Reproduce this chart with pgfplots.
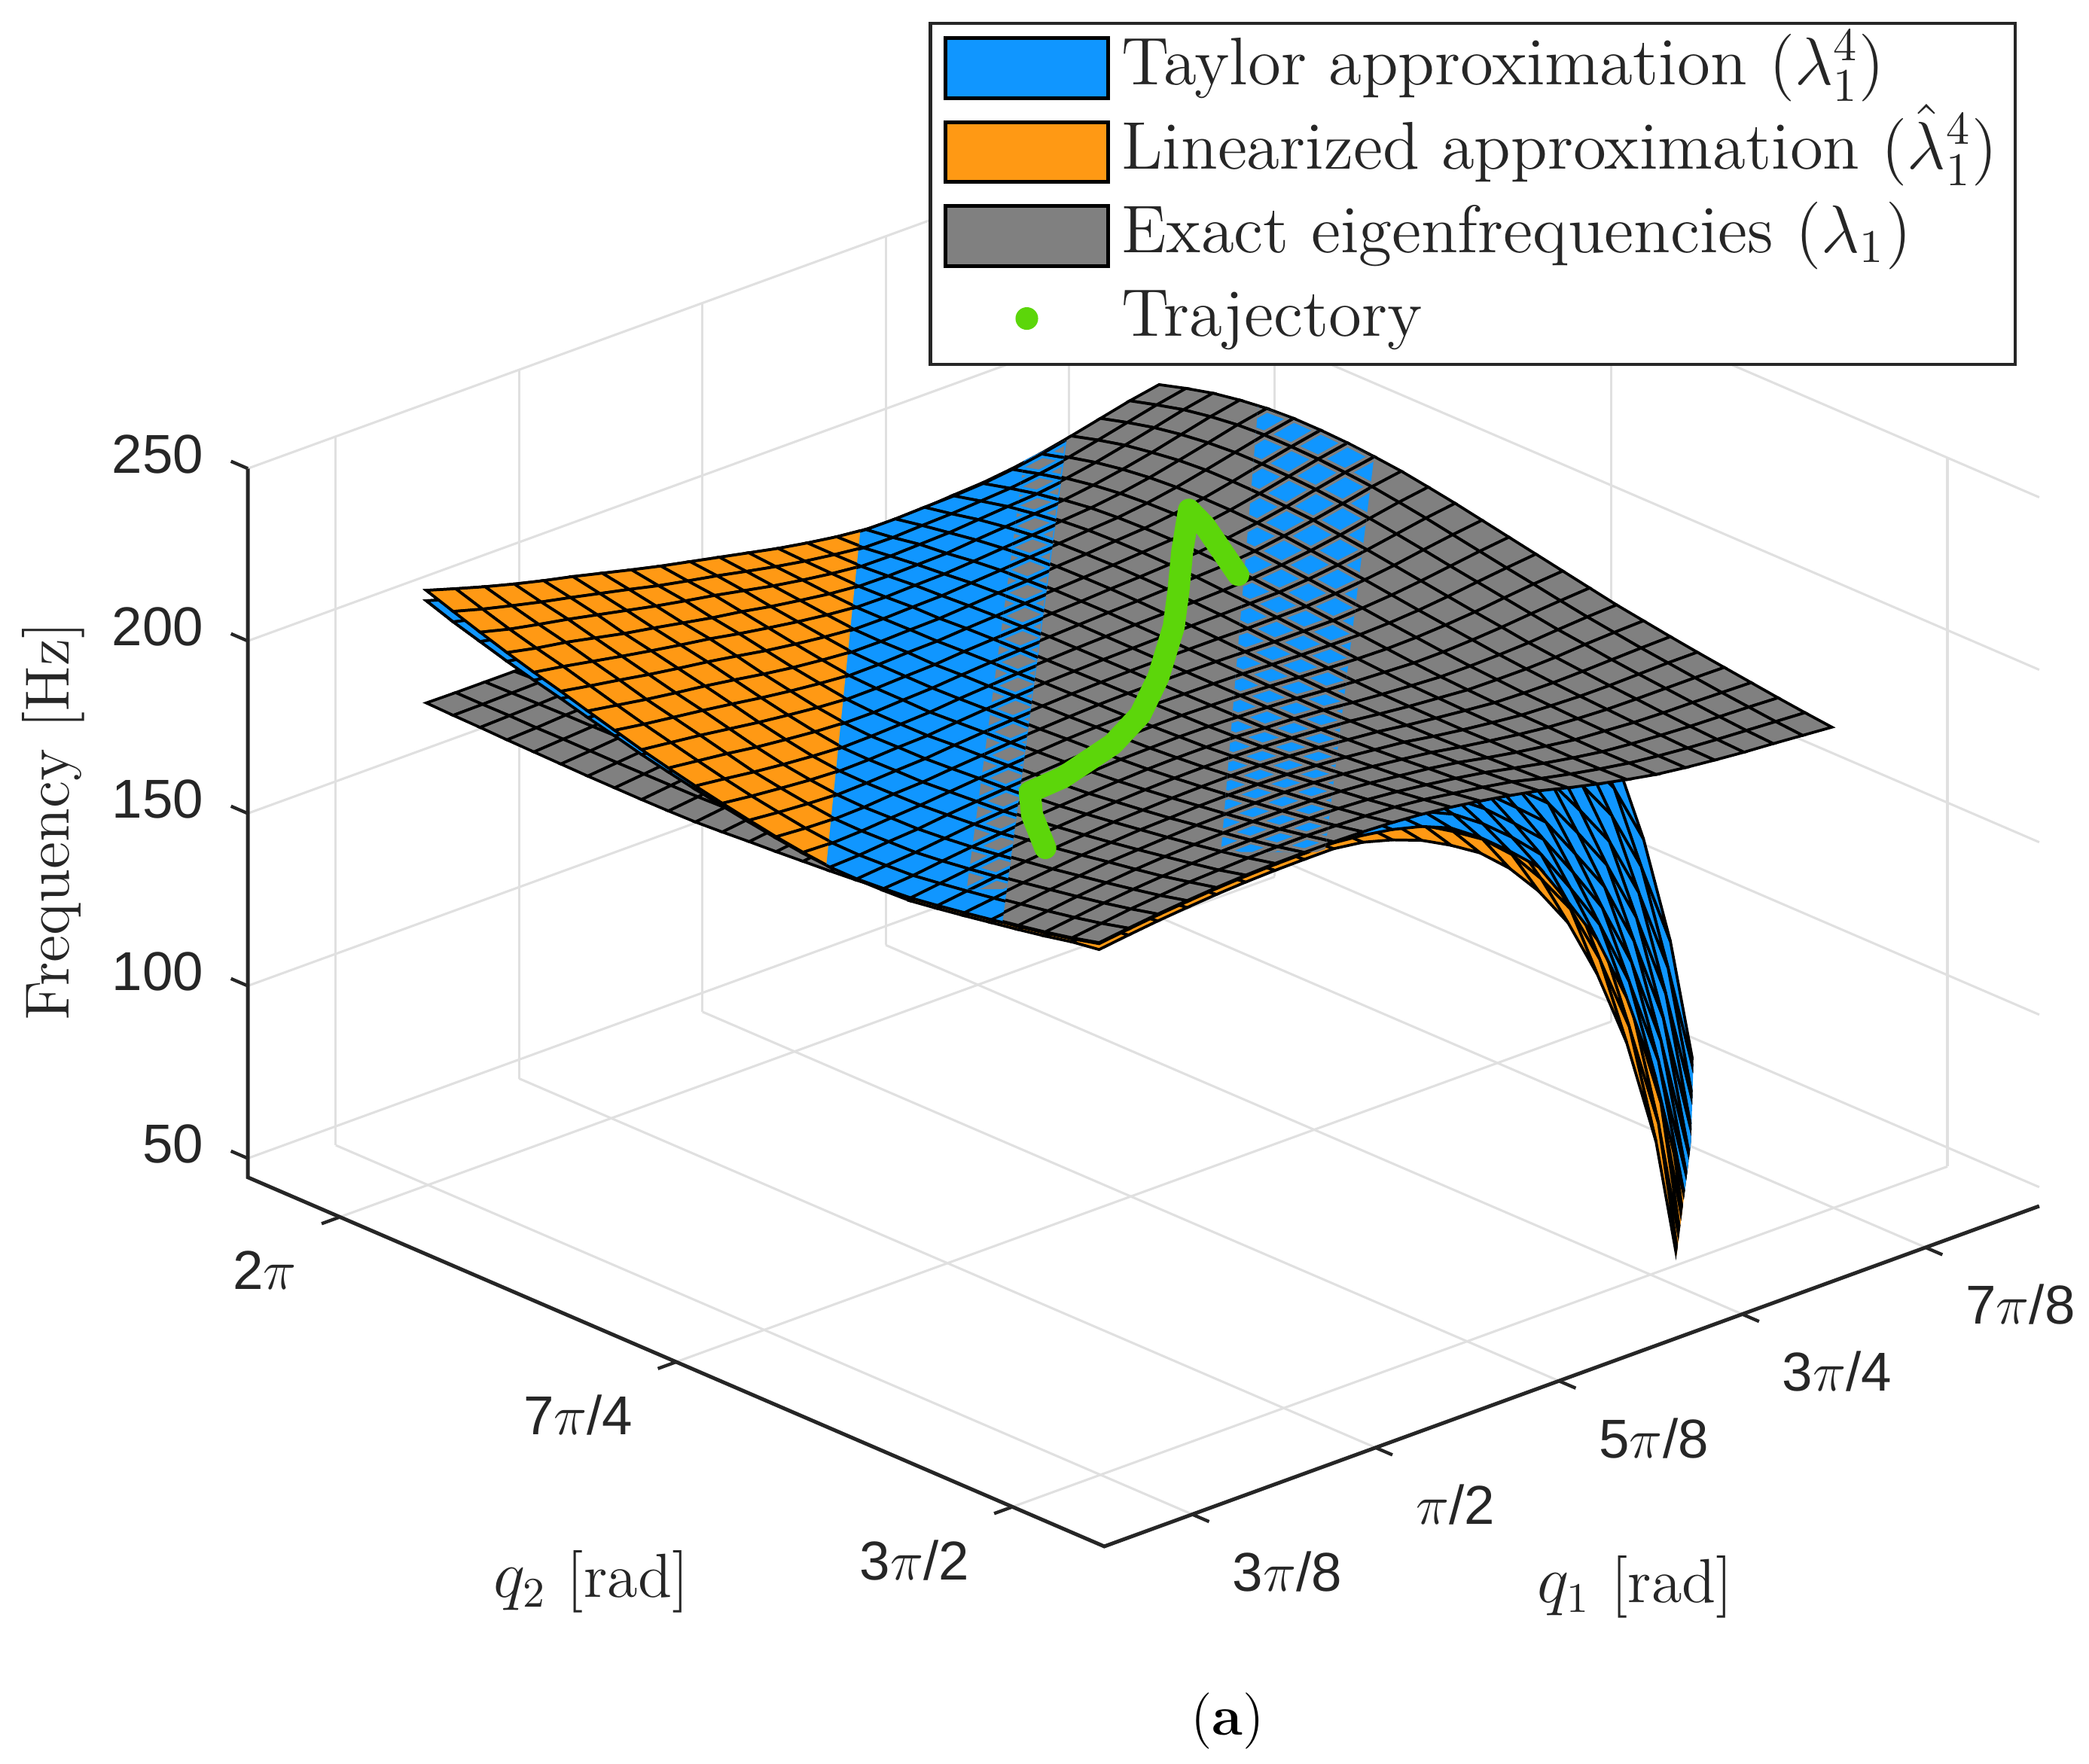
\documentclass[border=0pt]{standalone}
\usepackage{fontspec}
\usepackage{pgfplots}
\usepackage{pgfplotstable}
\pgfplotsset{compat=1.18}
\newfontfamily\tickfont{Liberation Sans}
\definecolor{taylorblue}{RGB}{16,150,255}
\definecolor{linorange}{RGB}{255,153,20}
\definecolor{exactgrey}{RGB}{128,128,128}
\definecolor{trajgreen}{RGB}{92,214,10}
\definecolor{axdark}{RGB}{38,38,38}
\newcommand{\tickfs}{\fontsize{11.7pt}{13pt}\selectfont\tickfont\color{axdark}}
\newcommand{\labfs}{\fontsize{13.3pt}{16pt}\selectfont\color{axdark}}
\newcommand{\legfs}{\fontsize{14.4pt}{17pt}\selectfont\color{axdark}}
% i, j: grid index along q1, q2; g exact, t Taylor, o linearized
\pgfplotstableread{
i j g t o
0 0 197.0 196.7 195.0
1 0 198.2 197.9 196.2
2 0 199.3 199.0 197.3
3 0 200.2 199.9 198.2
4 0 201.0 200.7 199.0
5 0 201.6 201.3 199.6
6 0 202.0 201.7 200.0
7 0 202.2 201.9 200.2
8 0 202.3 202.0 200.3
9 0 202.2 201.2 199.2
10 0 201.9 199.9 196.9
11 0 201.3 197.8 193.8
12 0 200.4 194.4 189.4
13 0 199.2 188.7 184.2
14 0 197.8 181.8 176.8
15 0 196.2 174.2 167.2
16 0 194.1 161.1 155.1
17 0 192.2 147.2 137.2
18 0 190.5 127.5 114.5
19 0 189.0 101.0 83.0
20 0 188.0 63.0 33.0
21 0 187.2 17.2 -27.8
22 0 186.5 -38.5 -103.5
23 0 186.0 -104.0 -194.0
24 0 185.4 -184.6 -294.6
25 0 184.8 -275.2 -415.2
0 1 195.0 194.7 193.8
1 1 196.2 195.9 195.0
2 1 197.4 197.1 196.2
3 1 198.3 198.0 197.1
4 1 199.2 198.9 198.0
5 1 199.7 199.4 198.5
6 1 200.2 199.9 199.0
7 1 200.5 200.2 199.3
8 1 200.7 200.4 199.5
9 1 200.6 200.3 199.0
10 1 200.4 199.4 197.4
11 1 200.0 198.0 195.0
12 1 199.2 195.7 191.7
13 1 198.0 192.0 187.0
14 1 196.8 186.3 181.8
15 1 195.4 179.4 174.4
16 1 193.4 171.4 164.4
17 1 191.7 158.7 152.7
18 1 190.2 145.2 135.2
19 1 188.9 125.9 112.9
20 1 188.0 100.0 82.0
21 1 187.3 62.3 32.3
22 1 186.8 16.8 -28.2
23 1 186.4 -38.6 -103.6
24 1 186.0 -104.0 -194.0
25 1 185.6 -184.4 -294.4
0 2 193.3 193.0 192.1
1 2 194.5 194.2 193.3
2 2 195.7 195.4 194.5
3 2 196.7 196.4 195.5
4 2 197.5 197.2 196.3
5 2 198.2 197.9 197.0
6 2 198.7 198.4 197.5
7 2 199.0 198.7 197.8
8 2 199.2 198.9 198.0
9 2 199.3 199.0 198.1
10 2 199.2 198.9 197.6
11 2 198.8 197.8 195.8
12 2 198.1 196.1 193.1
13 2 197.1 193.6 189.6
14 2 196.0 190.0 185.0
15 2 194.7 184.2 179.7
16 2 193.0 177.0 172.0
17 2 191.4 169.4 162.4
18 2 190.0 157.0 151.0
19 2 188.8 143.8 133.8
20 2 188.1 125.1 112.1
21 2 187.6 99.6 81.6
22 2 187.2 62.2 32.2
23 2 187.0 17.0 -28.0
24 2 186.8 -38.2 -103.2
25 2 186.5 -103.5 -193.5
0 3 191.8 191.5 190.6
1 3 193.0 192.7 191.8
2 3 194.2 193.9 193.0
3 3 195.2 194.9 194.0
4 3 196.1 195.8 194.9
5 3 196.8 196.5 195.6
6 3 197.3 197.0 196.1
7 3 197.7 197.4 196.5
8 3 198.0 197.7 196.8
9 3 198.1 197.8 196.9
10 3 198.1 197.8 196.9
11 3 197.8 197.5 196.2
12 3 197.2 196.2 194.2
13 3 196.3 194.3 191.3
14 3 195.4 191.9 187.9
15 3 194.2 188.2 183.2
16 3 192.6 182.1 177.6
17 3 191.2 175.2 170.2
18 3 190.0 168.0 161.0
19 3 188.9 155.9 149.9
20 3 188.4 143.4 133.4
21 3 187.9 124.9 111.9
22 3 187.7 99.7 81.7
23 3 187.7 62.7 32.7
24 3 187.6 17.6 -27.4
25 3 187.5 -37.5 -102.5
0 4 190.4 190.1 189.2
1 4 191.6 191.3 190.4
2 4 192.8 192.5 191.6
3 4 193.8 193.5 192.6
4 4 194.8 194.5 193.6
5 4 195.4 195.1 194.2
6 4 196.0 195.7 194.8
7 4 196.5 196.2 195.3
8 4 196.8 196.5 195.6
9 4 197.0 196.7 195.8
10 4 197.1 196.8 195.9
11 4 196.9 196.6 195.7
12 4 196.4 196.1 194.8
13 4 195.6 194.6 192.6
14 4 194.7 192.7 189.7
15 4 193.7 190.2 186.2
16 4 192.3 186.3 181.3
17 4 191.1 180.6 176.1
18 4 190.0 174.0 169.0
19 4 189.1 167.1 160.1
20 4 188.6 155.6 149.6
21 4 188.3 143.3 133.3
22 4 188.3 125.3 112.3
23 4 188.4 100.4 82.4
24 4 188.5 63.5 33.5
25 4 188.5 18.5 -26.5
0 5 189.0 188.7 187.8
1 5 190.2 189.9 189.0
2 5 191.4 191.1 190.2
3 5 192.4 192.1 191.2
4 5 193.4 193.1 192.2
5 5 194.1 193.8 192.9
6 5 194.8 194.5 193.6
7 5 195.2 194.9 194.0
8 5 195.7 195.4 194.5
9 5 195.9 195.6 194.7
10 5 196.0 195.7 194.8
11 5 195.9 195.6 194.7
12 5 195.5 195.2 194.3
13 5 194.9 194.6 193.3
14 5 194.1 193.1 191.1
15 5 193.3 191.3 188.3
16 5 192.0 188.5 184.5
17 5 190.9 184.9 179.9
18 5 190.0 179.5 175.0
19 5 189.2 173.2 168.2
20 5 188.9 166.9 159.9
21 5 188.7 155.7 149.7
22 5 188.8 143.8 133.8
23 5 189.1 126.1 113.1
24 5 189.4 101.4 83.4
25 5 189.5 64.5 34.5
0 6 187.7 187.4 186.5
1 6 188.9 188.6 187.7
2 6 190.1 189.8 188.9
3 6 191.2 190.9 190.0
4 6 192.1 191.8 190.9
5 6 192.9 192.6 191.7
6 6 193.6 193.3 192.4
7 6 194.1 193.8 192.9
8 6 194.6 194.3 193.4
9 6 194.9 194.6 193.7
10 6 195.1 194.8 193.9
11 6 195.1 194.8 193.9
12 6 194.8 194.5 193.6
13 6 194.3 194.0 193.1
14 6 193.6 193.3 192.0
15 6 192.9 191.9 189.9
16 6 191.8 189.8 186.8
17 6 190.9 187.4 183.4
18 6 190.1 184.1 179.1
19 6 189.4 178.9 174.4
20 6 189.2 173.2 168.2
21 6 189.2 167.2 160.2
22 6 189.5 156.5 150.5
23 6 189.9 144.9 134.9
24 6 190.3 127.3 114.3
25 6 190.6 102.6 84.6
0 7 186.5 186.2 185.3
1 7 187.7 187.4 186.5
2 7 188.9 188.6 187.7
3 7 190.0 189.7 188.8
4 7 191.0 190.7 189.8
5 7 191.8 191.5 190.6
6 7 192.5 192.2 191.3
7 7 193.1 192.8 191.9
8 7 193.6 193.3 192.4
9 7 194.0 193.7 192.8
10 7 194.2 193.9 193.0
11 7 194.3 194.0 193.1
12 7 194.1 193.8 192.9
13 7 193.7 193.4 192.5
14 7 193.2 192.9 192.0
15 7 192.6 192.3 191.0
16 7 191.7 190.7 188.7
17 7 190.9 188.9 185.9
18 7 190.3 186.8 182.8
19 7 189.7 183.7 178.7
20 7 189.7 179.2 174.7
21 7 189.8 173.8 168.8
22 7 190.2 168.2 161.2
23 7 190.9 157.9 151.9
24 7 191.4 146.4 136.4
25 7 191.8 128.8 115.8
0 8 185.4 185.5 184.9
1 8 186.6 186.3 185.4
2 8 187.8 187.5 186.6
3 8 188.9 188.6 187.7
4 8 189.9 189.6 188.7
5 8 190.8 190.5 189.6
6 8 191.5 191.2 190.3
7 8 192.1 191.8 190.9
8 8 192.7 192.4 191.5
9 8 193.2 192.9 192.0
10 8 193.5 193.2 192.3
11 8 193.6 193.3 192.4
12 8 193.6 193.3 192.4
13 8 193.2 192.9 192.0
14 8 192.9 192.6 191.7
15 8 192.4 192.1 191.2
16 8 191.6 191.3 190.0
17 8 191.0 190.0 188.0
18 8 190.5 188.5 185.5
19 8 190.1 186.6 182.6
20 8 190.2 184.2 179.2
21 8 190.5 180.0 175.5
22 8 191.0 175.0 170.0
23 8 191.8 169.8 162.8
24 8 192.5 159.5 153.5
25 8 193.0 148.0 138.0
0 9 184.5 184.9 184.7
1 9 185.7 185.8 185.2
2 9 186.9 186.6 185.7
3 9 188.0 187.7 186.8
4 9 189.1 188.8 187.9
5 9 189.9 189.6 188.7
6 9 190.7 190.4 189.5
7 9 191.4 191.1 190.2
8 9 192.0 191.7 190.8
9 9 192.6 192.3 191.4
10 9 192.9 192.6 191.7
11 9 193.2 192.9 192.0
12 9 193.2 192.9 192.0
13 9 193.0 192.7 191.8
14 9 192.8 192.5 191.6
15 9 192.4 192.1 191.2
16 9 191.8 191.5 190.6
17 9 191.3 191.0 189.7
18 9 191.0 190.0 188.0
19 9 190.7 188.7 185.7
20 9 190.9 187.4 183.4
21 9 191.4 185.4 180.4
22 9 192.1 181.6 177.1
23 9 193.0 177.0 172.0
24 9 193.8 171.8 164.8
25 9 194.5 161.5 155.5
0 10 183.8 184.9 185.0
1 10 185.0 185.4 185.2
2 10 186.2 186.3 185.7
3 10 187.3 187.0 186.1
4 10 188.4 188.1 187.2
5 10 189.3 189.0 188.1
6 10 190.1 189.8 188.9
7 10 190.8 190.5 189.6
8 10 191.5 191.2 190.3
9 10 192.1 191.8 190.9
10 10 192.5 192.2 191.3
11 10 192.8 192.5 191.6
12 10 193.0 192.7 191.8
13 10 192.9 192.6 191.7
14 10 192.8 192.5 191.6
15 10 192.5 192.2 191.3
16 10 192.1 191.8 190.9
17 10 191.8 191.5 190.6
18 10 191.5 191.2 189.9
19 10 191.4 190.4 188.4
20 10 191.7 189.7 186.7
21 10 192.3 188.8 184.8
22 10 193.1 187.1 182.1
23 10 194.2 183.7 179.2
24 10 195.2 179.2 174.2
25 10 196.0 174.0 167.0
0 11 183.2 185.5 185.8
1 11 184.4 185.5 185.6
2 11 185.6 186.0 185.8
3 11 186.7 186.8 186.2
4 11 187.8 187.5 186.6
5 11 188.7 188.4 187.5
6 11 189.6 189.3 188.4
7 11 190.3 190.0 189.1
8 11 191.0 190.7 189.8
9 11 191.7 191.4 190.5
10 11 192.2 191.9 191.0
11 11 192.5 192.2 191.3
12 11 192.8 192.5 191.6
13 11 192.8 192.5 191.6
14 11 192.8 192.5 191.6
15 11 192.7 192.4 191.5
16 11 192.4 192.1 191.2
17 11 192.2 191.9 191.0
18 11 192.1 191.8 190.9
19 11 192.1 191.8 190.5
20 11 192.5 191.5 189.5
21 11 193.2 191.2 188.2
22 11 194.2 190.7 186.7
23 11 195.4 189.4 184.4
24 11 196.5 186.0 181.5
25 11 197.5 181.5 176.5
0 12 182.6 186.5 186.9
1 12 183.8 186.1 186.4
2 12 185.0 186.1 186.2
3 12 186.1 186.5 186.3
4 12 187.2 187.3 186.7
5 12 188.1 187.8 186.9
6 12 189.0 188.7 187.8
7 12 189.8 189.5 188.6
8 12 190.6 190.3 189.4
9 12 191.2 190.9 190.0
10 12 191.8 191.5 190.6
11 12 192.3 192.0 191.1
12 12 192.6 192.3 191.4
13 12 192.7 192.4 191.5
14 12 192.8 192.5 191.6
15 12 192.8 192.5 191.6
16 12 192.7 192.4 191.5
17 12 192.6 192.3 191.4
18 12 192.7 192.4 191.5
19 12 192.8 192.5 191.6
20 12 193.4 193.1 191.8
21 12 194.2 193.2 191.2
22 12 195.3 193.3 190.3
23 12 196.6 193.1 189.1
24 12 197.9 191.9 186.9
25 12 199.0 188.5 184.0
0 13 182.1 187.7 188.3
1 13 183.3 187.2 187.6
2 13 184.5 186.8 187.1
3 13 185.6 186.7 186.8
4 13 186.7 187.1 186.9
5 13 187.6 187.7 187.1
6 13 188.5 188.2 187.3
7 13 189.4 189.1 188.2
8 13 190.2 189.9 189.0
9 13 190.9 190.6 189.7
10 13 191.5 191.2 190.3
11 13 192.0 191.7 190.8
12 13 192.4 192.1 191.2
13 13 192.7 192.4 191.5
14 13 192.9 192.6 191.7
15 13 193.0 192.7 191.8
16 13 193.1 192.8 191.9
17 13 193.1 192.8 191.9
18 13 193.3 193.0 192.1
19 13 193.5 193.2 192.3
20 13 194.2 193.9 193.0
21 13 195.2 194.9 193.6
22 13 196.4 195.4 193.4
23 13 197.9 195.9 192.9
24 13 199.3 195.8 191.8
25 13 200.5 194.5 189.5
0 14 181.5 189.0 189.8
1 14 182.7 188.3 188.9
2 14 183.9 187.8 188.2
3 14 185.0 187.3 187.6
4 14 186.1 187.2 187.3
5 14 187.1 187.5 187.3
6 14 188.0 188.1 187.5
7 14 188.8 188.5 187.6
8 14 189.7 189.4 188.5
9 14 190.5 190.2 189.3
10 14 191.2 190.9 190.0
11 14 191.8 191.5 190.6
12 14 192.2 191.9 191.0
13 14 192.6 192.3 191.4
14 14 192.9 192.6 191.7
15 14 193.2 192.9 192.0
16 14 193.4 193.1 192.2
17 14 193.6 193.3 192.4
18 14 193.9 193.6 192.7
19 14 194.2 193.9 193.0
20 14 195.0 194.7 193.8
21 14 196.1 195.8 194.9
22 14 197.5 197.2 195.9
23 14 199.1 198.1 196.1
24 14 200.7 198.7 195.7
25 14 202.0 198.5 194.5
0 15 181.0 190.4 191.4
1 15 182.2 189.7 190.5
2 15 183.3 188.9 189.5
3 15 184.4 188.3 188.7
4 15 185.5 187.8 188.1
5 15 186.5 187.6 187.7
6 15 187.5 187.9 187.7
7 15 188.3 188.4 187.8
8 15 189.2 188.9 188.0
9 15 190.1 189.8 188.9
10 15 190.8 190.5 189.6
11 15 191.5 191.2 190.3
12 15 192.0 191.7 190.8
13 15 192.5 192.2 191.3
14 15 192.9 192.6 191.7
15 15 193.3 193.0 192.1
16 15 193.6 193.3 192.4
17 15 193.9 193.6 192.7
18 15 194.3 194.0 193.1
19 15 194.8 194.5 193.6
20 15 195.7 195.4 194.5
21 15 196.9 196.6 195.7
22 15 198.4 198.1 197.2
23 15 200.2 199.9 198.6
24 15 201.9 200.9 198.9
25 15 203.3 201.3 198.3
0 16 180.8 192.0 193.2
1 16 181.9 191.3 192.3
2 16 183.1 190.6 191.4
3 16 184.1 189.7 190.3
4 16 185.2 189.1 189.5
5 16 186.2 188.5 188.8
6 16 187.2 188.3 188.4
7 16 188.0 188.4 188.2
8 16 188.9 189.0 188.4
9 16 189.8 189.5 188.6
10 16 190.6 190.3 189.4
11 16 191.3 191.0 190.1
12 16 191.9 191.6 190.7
13 16 192.4 192.1 191.2
14 16 192.9 192.6 191.7
15 16 193.4 193.1 192.2
16 16 193.8 193.5 192.6
17 16 194.3 194.0 193.1
18 16 194.8 194.5 193.6
19 16 195.3 195.0 194.1
20 16 196.3 196.0 195.1
21 16 197.7 197.4 196.5
22 16 199.3 199.0 198.1
23 16 201.1 200.8 199.9
24 16 203.0 202.7 201.4
25 16 204.5 203.5 201.5
0 17 180.7 193.7 195.1
1 17 181.8 193.0 194.2
2 17 182.9 192.3 193.3
3 17 183.9 191.4 192.2
4 17 184.9 190.5 191.1
5 17 185.9 189.8 190.2
6 17 186.8 189.1 189.4
7 17 187.7 188.8 188.9
8 17 188.6 189.0 188.8
9 17 189.4 189.5 188.9
10 17 190.2 189.9 189.0
11 17 191.0 190.7 189.8
12 17 191.6 191.3 190.4
13 17 192.2 191.9 191.0
14 17 192.8 192.5 191.6
15 17 193.3 193.0 192.1
16 17 193.9 193.6 192.7
17 17 194.4 194.1 193.2
18 17 195.0 194.7 193.8
19 17 195.6 195.3 194.4
20 17 196.7 196.4 195.5
21 17 198.1 197.8 196.9
22 17 199.8 199.5 198.6
23 17 201.8 201.5 200.6
24 17 203.7 203.4 202.5
25 17 205.3 205.0 203.7
0 18 180.7 195.7 197.3
1 18 181.7 194.7 196.1
2 18 182.7 193.9 195.1
3 18 183.7 193.1 194.1
4 18 184.7 192.2 193.0
5 18 185.6 191.2 191.8
6 18 186.5 190.4 190.8
7 18 187.4 189.7 190.0
8 18 188.2 189.3 189.4
9 18 189.1 189.5 189.3
10 18 189.9 190.0 189.4
11 18 190.6 190.3 189.4
12 18 191.3 191.0 190.1
13 18 191.9 191.6 190.7
14 18 192.6 192.3 191.4
15 18 193.2 192.9 192.0
16 18 193.8 193.5 192.6
17 18 194.4 194.1 193.2
18 18 195.1 194.8 193.9
19 18 195.8 195.5 194.6
20 18 196.9 196.6 195.7
21 18 198.4 198.1 197.2
22 18 200.2 199.9 199.0
23 18 202.2 201.9 201.0
24 18 204.2 203.9 203.0
25 18 205.9 205.6 204.7
0 19 180.7 197.6 199.5
1 19 181.6 196.6 198.2
2 19 182.5 195.5 196.9
3 19 183.4 194.6 195.8
4 19 184.4 193.8 194.8
5 19 185.3 192.8 193.6
6 19 186.1 191.7 192.3
7 19 186.9 190.8 191.2
8 19 187.8 190.1 190.4
9 19 188.6 189.7 189.8
10 19 189.4 189.8 189.6
11 19 190.1 190.2 189.6
12 19 190.8 190.5 189.6
13 19 191.5 191.2 190.3
14 19 192.2 191.9 191.0
15 19 192.8 192.5 191.6
16 19 193.6 193.3 192.4
17 19 194.2 193.9 193.0
18 19 195.0 194.7 193.8
19 19 195.7 195.4 194.5
20 19 196.9 196.6 195.7
21 19 198.4 198.1 197.2
22 19 200.3 200.0 199.1
23 19 202.4 202.1 201.2
24 19 204.4 204.1 203.2
25 19 206.2 205.9 205.0
0 20 180.8 199.7 201.8
1 20 181.6 198.5 200.4
2 20 182.5 197.5 199.1
3 20 183.3 196.3 197.7
4 20 184.1 195.3 196.5
5 20 185.0 194.4 195.4
6 20 185.8 193.3 194.1
7 20 186.5 192.1 192.7
8 20 187.3 191.2 191.6
9 20 188.1 190.4 190.7
10 20 188.8 189.9 190.0
11 20 189.6 190.0 189.8
12 20 190.3 190.4 189.8
13 20 191.0 190.7 189.8
14 20 191.7 191.4 190.5
15 20 192.4 192.1 191.2
16 20 193.2 192.9 192.0
17 20 193.9 193.6 192.7
18 20 194.7 194.4 193.5
19 20 195.4 195.1 194.2
20 20 196.6 196.3 195.4
21 20 198.2 197.9 197.0
22 20 200.2 199.9 199.0
23 20 202.3 202.0 201.1
24 20 204.4 204.1 203.2
25 20 206.2 205.9 205.0
0 21 180.9 201.6 203.9
1 21 181.6 200.5 202.6
2 21 182.3 199.2 201.1
3 21 183.0 198.0 199.6
4 21 183.8 196.8 198.2
5 21 184.5 195.7 196.9
6 21 185.3 194.7 195.7
7 21 185.9 193.4 194.2
8 21 186.7 192.3 192.9
9 21 187.4 191.3 191.7
10 21 188.1 190.4 190.7
11 21 188.8 189.9 190.0
12 21 189.5 189.9 189.7
13 21 190.2 190.3 189.7
14 21 190.9 190.6 189.7
15 21 191.6 191.3 190.4
16 21 192.4 192.1 191.2
17 21 193.2 192.9 192.0
18 21 194.0 193.7 192.8
19 21 194.8 194.5 193.6
20 21 196.0 195.7 194.8
21 21 197.6 197.3 196.4
22 21 199.6 199.3 198.4
23 21 201.7 201.4 200.5
24 21 203.9 203.6 202.7
25 21 205.7 205.4 204.5
0 22 181.0 203.7 206.2
1 22 181.5 202.2 204.5
2 22 182.2 201.1 203.2
3 22 182.7 199.6 201.5
4 22 183.4 198.4 199.8
5 22 184.0 197.0 198.4
6 22 184.7 196.0 196.9
7 22 185.2 194.6 195.4
8 22 185.9 193.4 194.2
9 22 186.5 192.1 192.7
10 22 187.2 191.1 191.5
11 22 187.8 190.1 190.4
12 22 188.5 189.6 189.7
13 22 189.2 189.6 189.4
14 22 189.8 189.9 189.3
15 22 190.5 190.2 189.3
16 22 191.4 191.1 190.2
17 22 192.2 191.9 191.0
18 22 193.0 192.7 191.8
19 22 193.7 193.4 192.5
20 22 195.0 194.7 193.8
21 22 196.6 196.3 195.4
22 22 198.5 198.2 197.3
23 22 200.7 200.4 199.5
24 22 202.9 202.6 201.7
25 22 204.7 204.4 203.5
0 23 181.2 206.0 208.7
1 23 181.6 204.3 206.6
2 23 182.0 202.7 205.0
3 23 182.5 201.4 203.5
4 23 183.0 199.9 201.8
5 23 183.5 198.5 200.1
6 23 184.0 197.0 198.4
7 23 184.5 195.7 196.9
8 23 185.1 194.5 195.5
9 23 185.6 193.1 193.9
10 23 186.1 191.7 192.3
11 23 186.7 190.6 191.0
12 23 187.3 189.6 189.9
13 23 187.9 189.0 189.1
14 23 188.6 189.0 188.8
15 23 189.3 189.4 188.8
16 23 190.1 189.8 188.9
17 23 190.9 190.6 189.7
18 23 191.7 191.4 190.5
19 23 192.4 192.1 191.2
20 23 193.6 193.3 192.4
21 23 195.2 194.9 194.0
22 23 197.2 196.9 196.0
23 23 199.3 199.0 198.1
24 23 201.5 201.2 200.3
25 23 203.3 203.0 202.1
0 24 181.3 208.3 211.3
1 24 181.5 206.3 209.0
2 24 181.8 204.5 207.0
3 24 182.1 202.8 205.1
4 24 182.4 201.3 203.4
5 24 182.8 199.7 201.6
6 24 183.2 198.2 199.8
7 24 183.5 196.5 197.9
8 24 183.9 195.1 196.3
9 24 184.4 193.8 194.8
10 24 184.8 192.3 193.1
11 24 185.3 190.9 191.5
12 24 185.8 189.7 190.1
13 24 186.4 188.7 189.0
14 24 186.9 188.0 188.1
15 24 187.6 188.0 187.8
16 24 188.4 188.5 187.9
17 24 189.2 188.9 188.0
18 24 189.9 189.6 188.7
19 24 190.6 190.3 189.4
20 24 191.8 191.5 190.6
21 24 193.3 193.0 192.1
22 24 195.3 195.0 194.1
23 24 197.4 197.1 196.2
24 24 199.5 199.2 198.3
25 24 201.3 201.0 200.1
0 25 181.5 211.0 214.0
1 25 181.5 208.5 211.5
2 25 181.6 206.4 209.1
3 25 181.7 204.4 206.9
4 25 181.9 202.6 204.9
5 25 182.1 201.0 203.1
6 25 182.3 199.2 201.1
7 25 182.5 197.5 199.1
8 25 182.8 195.8 197.2
9 25 183.1 194.3 195.5
10 25 183.4 192.8 193.8
11 25 183.8 191.3 192.1
12 25 184.2 189.8 190.4
13 25 184.7 188.6 189.0
14 25 185.2 187.5 187.8
15 25 185.8 186.9 187.0
16 25 186.6 187.0 186.8
17 25 187.3 187.4 186.8
18 25 188.0 187.7 186.8
19 25 188.6 188.3 187.4
20 25 189.7 189.4 188.5
21 25 191.2 190.9 190.0
22 25 193.1 192.8 191.9
23 25 195.2 194.9 194.0
24 25 197.3 197.0 196.1
25 25 199.0 198.7 197.8
}\surfdata
\pgfplotsset{
  layer/.style={hide axis, clip=false, at={(3.20cm,2.19cm)}, anchor=south west,
    x={(0.22cm,0.0774cm)}, y={(-0.202cm,0.0881cm)}, z={(0cm,0.026cm)},
    xmin=0, xmax=25, ymin=0, ymax=25, zmin=44.2, zmax=250},
  sheet/.style={surf, shader=faceted, faceted color=black, line width=0.6pt, mesh/rows=26},
  blue sheet/.style={sheet, colormap={bl}{color=(taylorblue) color=(taylorblue)}},
  orange sheet/.style={sheet, colormap={or}{color=(linorange) color=(linorange)}},
  grey sheet/.style={sheet, colormap={gr}{color=(exactgrey) color=(exactgrey)}},
  black net/.style={mesh, mesh/rows=26, line width=0.6pt, colormap={bk}{color=(black) color=(black)}},
}
\newcommand{\clipto}[1]{\clip[x=0.01cm,y=-0.01cm,yshift=13.24cm] #1;}
\begin{document}
\begin{tikzpicture}
\useasboundingbox (0,0) rectangle (15.68,13.24);
\begin{axis}[
  at={(1.86cm,1.63cm)}, anchor=south west, clip=false,
  x={(1.376cm,0.501cm)}, y={(-2.524cm,1.088cm)}, z={(0cm,0.0259cm)},
  xmin=2.52, xmax=7.62, ymin=5.727, ymax=8.274, zmin=44.5, zmax=250,
  xtick={3,4,5,6,7}, ytick={6,7,8}, ztick={50,100,150,200,250},
  xticklabels={3$\pi$/8,$\pi$/2,5$\pi$/8,3$\pi$/4,7$\pi$/8},
  yticklabels={3$\pi$/2,7$\pi$/4,2$\pi$},
  grid=major, grid style={draw=black!12,line width=0.5pt},
  axis line style={draw=none},
  tick style={draw=none}, tick align=outside, major tick length=0.15cm,
  ticklabel style={font=\tickfs},
  xticklabel style={anchor=west,xshift=0.04cm,yshift=-0.37cm},
  yticklabel style={anchor=east,xshift=-0.06cm,yshift=-0.35cm},
  zticklabel style={anchor=east,xshift=-0.07cm,yshift=0.05cm},
  /pgf/number format/assume math mode=true,
  legend style={at={(0.9875,1.075)},anchor=north east,draw=axdark,line width=0.7pt,fill=white,font=\legfs,
    nodes={inner ysep=0pt,text height=0.44cm,text depth=0.19cm},inner ysep=0.02cm,inner xsep=1.8pt},
  legend cell align=left,
]
\addplot3[draw=none,forget plot] coordinates {(3,6,100) (4,7,120)};
\addlegendimage{legend image code/.code={\draw[fill=taylorblue,draw=black,line width=0.8pt] (0.05cm,-0.225cm) rectangle (1.27cm,0.225cm);\path[draw=none,fill=none] (0cm,0cm) -- (1.30cm,0cm);}}
\addlegendentry{Taylor approximation ($\lambda_1^4$)}
\addlegendimage{legend image code/.code={\draw[fill=linorange,draw=black,line width=0.8pt] (0.05cm,-0.225cm) rectangle (1.27cm,0.225cm);\path[draw=none,fill=none] (0cm,0cm) -- (1.30cm,0cm);}}
\addlegendentry{Linearized approximation ($\hat\lambda_1^4$)}
\addlegendimage{legend image code/.code={\draw[fill=exactgrey,draw=black,line width=0.8pt] (0.05cm,-0.225cm) rectangle (1.27cm,0.225cm);\path[draw=none,fill=none] (0cm,0cm) -- (1.30cm,0cm);}}
\addlegendentry{Exact eigenfrequencies ($\lambda_1$)}
\addlegendimage{legend image code/.code={\fill[trajgreen,draw=none] (0.66cm,0.01cm) circle (0.085cm);\path[draw=none,fill=none] (0cm,0cm) -- (1.30cm,0cm);}}
\addlegendentry{Trajectory}
\draw[axdark,line width=0.8pt] (axis cs:2.52,8.274,250) -- (axis cs:2.52,8.274,44.5) -- (axis cs:2.52,5.727,44.5) -- (axis cs:7.62,5.727,44.5);
\draw[axdark,line width=0.7pt] (axis cs:3,5.727,44.5) -- (axis cs:3,5.677,44.5);
\draw[axdark,line width=0.7pt] (axis cs:4,5.727,44.5) -- (axis cs:4,5.677,44.5);
\draw[axdark,line width=0.7pt] (axis cs:5,5.727,44.5) -- (axis cs:5,5.677,44.5);
\draw[axdark,line width=0.7pt] (axis cs:6,5.727,44.5) -- (axis cs:6,5.677,44.5);
\draw[axdark,line width=0.7pt] (axis cs:7,5.727,44.5) -- (axis cs:7,5.677,44.5);
\draw[axdark,line width=0.7pt] (axis cs:2.52,6,44.5) -- (axis cs:2.42,6,44.5);
\draw[axdark,line width=0.7pt] (axis cs:2.52,7,44.5) -- (axis cs:2.42,7,44.5);
\draw[axdark,line width=0.7pt] (axis cs:2.52,8,44.5) -- (axis cs:2.42,8,44.5);
\draw[axdark,line width=0.7pt] (axis cs:2.52,8.274,50) -- (axis cs:2.52,8.324,50);
\draw[axdark,line width=0.7pt] (axis cs:2.52,8.274,100) -- (axis cs:2.52,8.324,100);
\draw[axdark,line width=0.7pt] (axis cs:2.52,8.274,150) -- (axis cs:2.52,8.324,150);
\draw[axdark,line width=0.7pt] (axis cs:2.52,8.274,200) -- (axis cs:2.52,8.324,200);
\draw[axdark,line width=0.7pt] (axis cs:2.52,8.274,250) -- (axis cs:2.52,8.324,250);
\end{axis}
% parts of the approximations that hang below the exact surface
\begin{scope}
\clipto{(0,0) -- (1568,0) -- (1568,790) -- (1272,790) -- (1270,858) -- (1258,952) -- (0,952) -- cycle}
\begin{axis}[layer]
\addplot3[orange sheet, z buffer=sort] table[x=i,y=j,z=o] {\surfdata};
\addplot3[blue sheet, z buffer=sort] table[x=i,y=j,z=t] {\surfdata};
\end{axis}
\end{scope}
\begin{axis}[layer]
\addplot3[grey sheet] table[x=i,y=j,z=g] {\surfdata};
\end{axis}
% Taylor surface on top
\begin{scope}
\clipto{(0,0) -- (845,0) -- (712,1000) -- (0,1000) -- cycle}
\begin{axis}[layer]
\addplot3[blue sheet] table[x=i,y=j,z=t] {\surfdata};
\end{axis}
\end{scope}
% strip where the exact surface starts to show through the Taylor one
\begin{scope}
\clipto{(769,346) -- (800,331) -- (756,668) -- (726,668) -- cycle}
\begin{axis}[layer]
\addplot3[grey sheet, faceted color=taylorblue, line width=1.7pt] table[x=i,y=j,z=t] {\surfdata};
\addplot3[black net] table[x=i,y=j,z=t] {\surfdata};
\end{axis}
\end{scope}
% band where Taylor and exact surfaces alternate
\begin{scope}
\clipto{(945,304) -- (1032,343) -- (995,640) -- (917,640) -- cycle}
\begin{axis}[layer]
\addplot3[blue sheet, faceted color=exactgrey, line width=1.7pt] table[x=i,y=j,z=g] {\surfdata};
\addplot3[black net] table[x=i,y=j,z=g] {\surfdata};
\end{axis}
\end{scope}
% linearized surface on top
\begin{scope}
\clipto{(0,0) -- (686.6,0) -- (585,1000) -- (0,1000) -- cycle}
\begin{axis}[layer]
\addplot3[orange sheet] table[x=i,y=j,z=o] {\surfdata};
\end{axis}
\end{scope}
\begin{axis}[layer]
\addplot3[trajgreen, line width=0.165cm, line join=round, line cap=round] coordinates {
(3.83,6.17,192) (5.02,7.96,192) (5.96,9.07,192) (7.22,9.21,192) (9.6,9.95,192) (11.39,10.88,192) (13.37,12.36,192)
(15.83,14.47,192) (17.42,16.03,192) (19.22,17.85,192) (21.2,19.75,192) (20.8,18.73,192) (19.3,15.85,192)};
\end{axis}
\begin{scope}[x=0.01cm,y=-0.01cm,yshift=13.24cm]
\node[font=\labfs] at (1228,1192) {$q_1$ [rad]};
\node[font=\labfs] at (444,1188) {$q_2$ [rad]};
\node[font=\labfs,rotate=90] at (40,617) {Frequency [Hz]};
\node[font=\fontsize{12pt}{15pt}\selectfont] at (922,1293) {(\textbf{a})};
\end{scope}
\end{tikzpicture}
\end{document}
